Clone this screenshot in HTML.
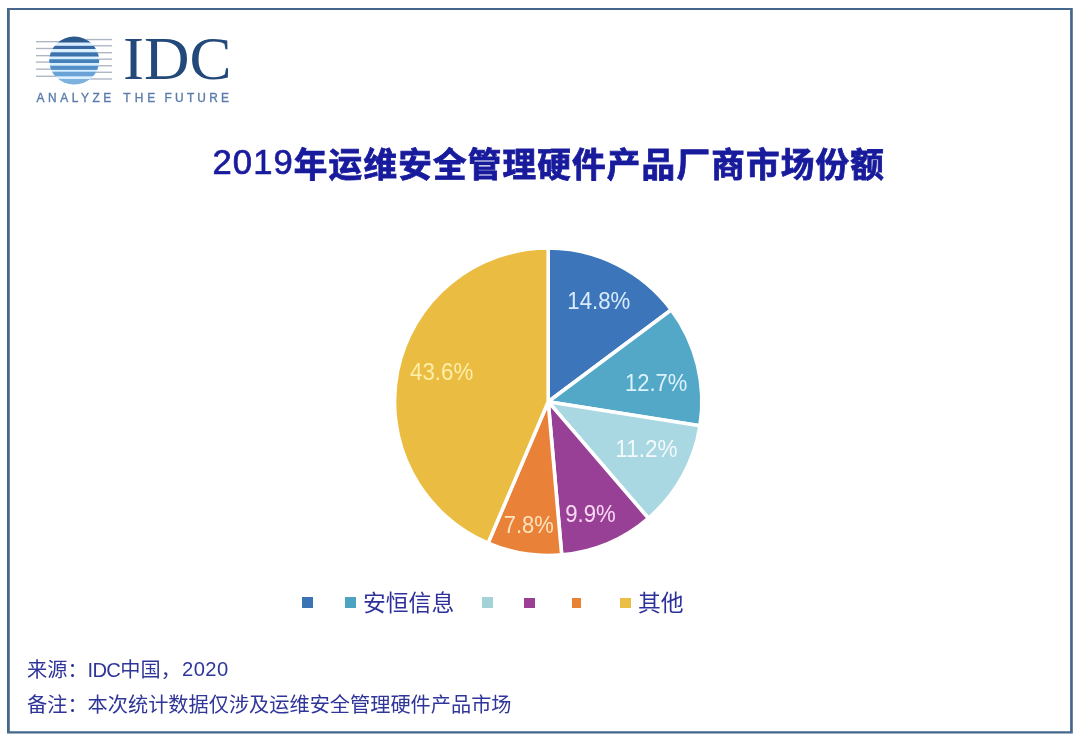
<!DOCTYPE html>
<html lang="zh">
<head>
<meta charset="utf-8">
<title>2019年运维安全管理硬件产品厂商市场份额</title>
<style>
html,body{margin:0;padding:0;background:#fff;}
body{width:1080px;height:737px;position:relative;overflow:hidden;font-family:"Liberation Sans","Noto Sans CJK SC",sans-serif;}
#title{position:absolute;left:212.5px;top:140.5px;font-size:33.6px;letter-spacing:1.2px;font-weight:700;color:#181b9c;white-space:nowrap;line-height:48px;-webkit-text-stroke:0.85px #181b9c;}
#title .n{font-size:34.6px;font-weight:400;-webkit-text-stroke:0.7px #181b9c;letter-spacing:1.1px;position:relative;top:-2.6px;}
#logo{position:absolute;left:0;top:0;}
#chart{position:absolute;left:0;top:0;}
.foot{position:absolute;left:27px;font-size:20.2px;color:#2f3599;white-space:nowrap;line-height:30px;}
.foot .l{letter-spacing:-0.7px;}
.foot .d{margin-left:1.2px;letter-spacing:0.45px;position:relative;top:-0.5px;}
.lg{position:absolute;top:597.3px;width:10.5px;height:10.3px;}
.lt{position:absolute;top:587px;font-size:22.8px;line-height:32px;color:#2d309b;white-space:nowrap;}
</style>
</head>
<body>
<svg id="logo" width="260" height="120" viewBox="0 0 260 120">
  <defs><clipPath id="c"><ellipse cx="74.2" cy="60.6" rx="25" ry="24"/></clipPath></defs>
  <g fill="#adb5c2">
    <rect x="36" y="41" width="30" height="1.35"/>
    <rect x="36" y="47.8" width="30" height="1.35"/>
    <rect x="36" y="55" width="30" height="1.35"/>
    <rect x="36" y="61.4" width="30" height="1.35"/>
    <rect x="36" y="68.5" width="30" height="1.35"/>
    <rect x="36" y="75.6" width="30" height="1.35"/>
    <rect x="80" y="38.9" width="32" height="1.35"/>
    <rect x="80" y="45.1" width="32" height="1.35"/>
    <rect x="80" y="52" width="32" height="1.35"/>
    <rect x="80" y="58.5" width="32" height="1.35"/>
    <rect x="80" y="65.1" width="32" height="1.35"/>
    <rect x="80" y="71.6" width="32" height="1.35"/>
    <rect x="80" y="78.3" width="32" height="1.35"/>
  </g>
  <g clip-path="url(#c)">
    <rect x="45" y="34" width="60" height="54" fill="#d9efff"/>
    <rect x="45" y="34" width="60" height="8.5" fill="#2c598d"/>
    <rect x="45" y="45.8" width="60" height="3.2" fill="#3866a3"/>
    <rect x="45" y="52.3" width="60" height="4.2" fill="#3e72ac"/>
    <rect x="45" y="59.2" width="60" height="3.8" fill="#4582b8"/>
    <rect x="45" y="65.7" width="60" height="4.2" fill="#548fc7"/>
    <rect x="45" y="71.7" width="60" height="4.6" fill="#6aa2d5"/>
    <rect x="45" y="79" width="60" height="7" fill="#7db2de"/>
  </g>
  <text x="123" y="78.6" font-family="'Liberation Serif',serif" font-size="61" fill="#23497a" textLength="108.5" lengthAdjust="spacingAndGlyphs">IDC</text>
  <g font-family="'Liberation Sans',sans-serif" font-size="11.9" fill="#5a7cab" stroke="#5a7cab" stroke-width="0.35">
    <text x="36.6" y="102" textLength="74.6" lengthAdjust="spacing">ANALYZE</text>
    <text x="123.3" y="102" textLength="32" lengthAdjust="spacing">THE</text>
    <text x="164.6" y="102" textLength="64.3" lengthAdjust="spacing">FUTURE</text>
  </g>
</svg>
<div id="title"><span class="n">2019</span>年运维安全管理硬件产品厂商市场份额</div>
<svg id="chart" width="1080" height="737" viewBox="0 0 1080 737">
  <path fill="#46678c" fill-rule="evenodd" d="M7 8H1072.8V733.6H7ZM9.8 10.1V731.3H1070.1V10.1Z"/>
  <g stroke="#fff" stroke-width="3.6" stroke-linejoin="round">
    <path d="M548.2 401.7L548.20 248.00A153.7 153.7 0 0 1 671.40 309.80Z" fill="#3d75ba"/>
    <path d="M548.2 401.7L671.40 309.80A153.7 153.7 0 0 1 700.01 425.74Z" fill="#53a8c8"/>
    <path d="M548.2 401.7L700.01 425.74A153.7 153.7 0 0 1 648.39 518.26Z" fill="#a9d8e2"/>
    <path d="M548.2 401.7L648.39 518.26A153.7 153.7 0 0 1 561.70 554.81Z" fill="#984095"/>
    <path d="M548.2 401.7L561.70 554.81A153.7 153.7 0 0 1 488.05 543.14Z" fill="#e98238"/>
    <path d="M548.2 401.7L488.05 543.14A153.7 153.7 0 0 1 548.20 248.00Z" fill="#ebbc42"/>
  </g>
  <g font-family="'Liberation Sans',sans-serif" font-size="23">
    <text x="567.3" y="308.6" fill="#d9ecff" textLength="63" lengthAdjust="spacingAndGlyphs">14.8%</text>
    <text x="625" y="391.3" fill="#dcf3fb" textLength="62.3" lengthAdjust="spacingAndGlyphs">12.7%</text>
    <text x="615.3" y="456.6" fill="#f3fafc" textLength="62.3" lengthAdjust="spacingAndGlyphs">11.2%</text>
    <text x="565.2" y="521.5" fill="#fbd9f4" textLength="50.5" lengthAdjust="spacingAndGlyphs">9.9%</text>
    <text x="503.8" y="532.8" fill="#fde3bf" textLength="50" lengthAdjust="spacingAndGlyphs">7.8%</text>
    <text x="410" y="379.6" fill="#fdeea8" textLength="63.3" lengthAdjust="spacingAndGlyphs">43.6%</text>
  </g>
</svg>
<div class="lg" style="left:302.3px;background:#3b73b5"></div>
<div class="lg" style="left:345px;background:#4fa3c2"></div>
<div class="lt" style="left:363px">安恒信息</div>
<div class="lg" style="left:482.2px;background:#a3d3d6"></div>
<div class="lg" style="left:524.2px;top:597.8px;background:#9a3f94"></div>
<div class="lg" style="left:571.6px;top:597.8px;background:#e88336;width:9.5px"></div>
<div class="lg" style="left:620.2px;top:597.8px;background:#ebbf45"></div>
<div class="lt" style="left:638px">其他</div>
<div class="foot" style="top:654.5px">来源：<span class="l">IDC</span>中国，<span class="d">2020</span></div>
<div class="foot" style="top:689.6px">备注：本次统计数据仅涉及运维安全管理硬件产品市场</div>
</body>
</html>
